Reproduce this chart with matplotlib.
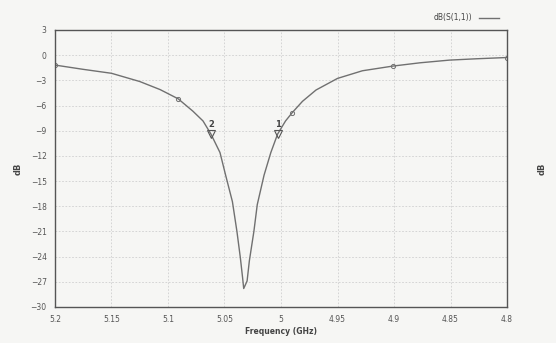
import matplotlib
matplotlib.use("Agg")
import matplotlib.pyplot as plt

freq = [5.200, 5.175, 5.150, 5.125, 5.107, 5.091, 5.078, 5.069, 5.062, 5.054,
        5.049, 5.043, 5.039, 5.036, 5.034, 5.033, 5.030, 5.028, 5.024, 5.021,
        5.015, 5.009, 5.003, 4.996, 4.990, 4.981, 4.969, 4.950, 4.928, 4.901,
        4.877, 4.851, 4.827, 4.800]
s11_db = [-1.18, -1.69, -2.16, -3.14, -4.10, -5.20, -6.67, -7.84, -9.40, -11.6,
          -14.3, -17.45, -21.0, -24.1, -26.5, -27.8, -26.9, -24.5, -21.0, -17.8,
          -14.3, -11.6, -9.40, -7.84, -6.84, -5.50, -4.15, -2.77, -1.86, -1.30,
          -0.91, -0.59, -0.43, -0.28]
circle_freq = [5.200, 5.091, 4.990, 4.901, 4.800]
circle_db = [-1.18, -5.20, -6.84, -1.30, -0.28]
marker_freq = [5.003, 5.062]
marker_db = [-9.4, -9.4]
marker_labels = ["1", "2"]
x_ticks = [5.2, 5.15, 5.1, 5.05, 5.0, 4.95, 4.9, 4.85, 4.8]
x_tick_labels = ["5.2", "5.15", "5.1", "5.05", "5", "4.95", "4.9", "4.85", "4.8"]
y_ticks = [3, 0, -3, -6, -9, -12, -15, -18, -21, -24, -27, -30]
series_name = "dB(S(1,1))"

bg = "#f6f6f4"
fig = plt.figure(figsize=(5.56, 3.43), dpi=100, facecolor=bg)
ax = fig.add_axes([0.0989, 0.105, 0.813, 0.8076], facecolor=bg)

line_c = "#707070"
ax.plot(freq, s11_db, color=line_c, lw=1.0, label=series_name,
        solid_joinstyle="round")
ax.plot(circle_freq, circle_db, ls="none", marker="o", ms=3, mfc="none",
        mec=line_c, mew=0.7)
ax.plot(marker_freq, marker_db, ls="none", marker="v", ms=6, mfc="none",
        mec="#555555", mew=0.8)
for f, d, t in zip(marker_freq, marker_db, marker_labels):
    ax.annotate(t, (f, d), xytext=(0, 4), textcoords="offset points",
                ha="center", va="bottom", fontsize=6, color="#444444",
                fontweight="bold")

ax.set_xlim(5.2, 4.8)
ax.set_ylim(-30, 3)
ax.set_xticks(x_ticks)
ax.set_xticklabels(x_tick_labels)
ax.set_yticks(y_ticks)
ax.grid(True, ls=(0, (2, 2)), color="#cfcfcf", lw=0.6)
ax.tick_params(axis="both", length=0, labelsize=5.5, colors="#555555", pad=6)
ax.tick_params(axis="y", labelright=True, right=False)
for sp in ax.spines.values():
    sp.set_color("#555555")
    sp.set_linewidth(1.0)

ax.set_xlabel("Frequency (GHz)", fontsize=5.5, color="#444444",
              fontweight="bold", labelpad=2)
ax.set_ylabel("dB", fontsize=6, color="#444444", fontweight="bold", labelpad=6)
ax2 = ax.twinx()
ax2.set_ylim(ax.get_ylim())
ax2.set_yticks([])
ax2.set_ylabel("dB", fontsize=6, color="#444444", fontweight="bold", labelpad=22)
for sp in ax2.spines.values():
    sp.set_visible(False)

leg = ax.legend(loc="lower right", bbox_to_anchor=(1.0, 1.0), frameon=False,
                markerfirst=False, fontsize=5.5, handlelength=2.7,
                borderaxespad=0.6)
for t in leg.get_texts():
    t.set_color("#444444")

fig.savefig("out.png", dpi=100, facecolor=bg)
